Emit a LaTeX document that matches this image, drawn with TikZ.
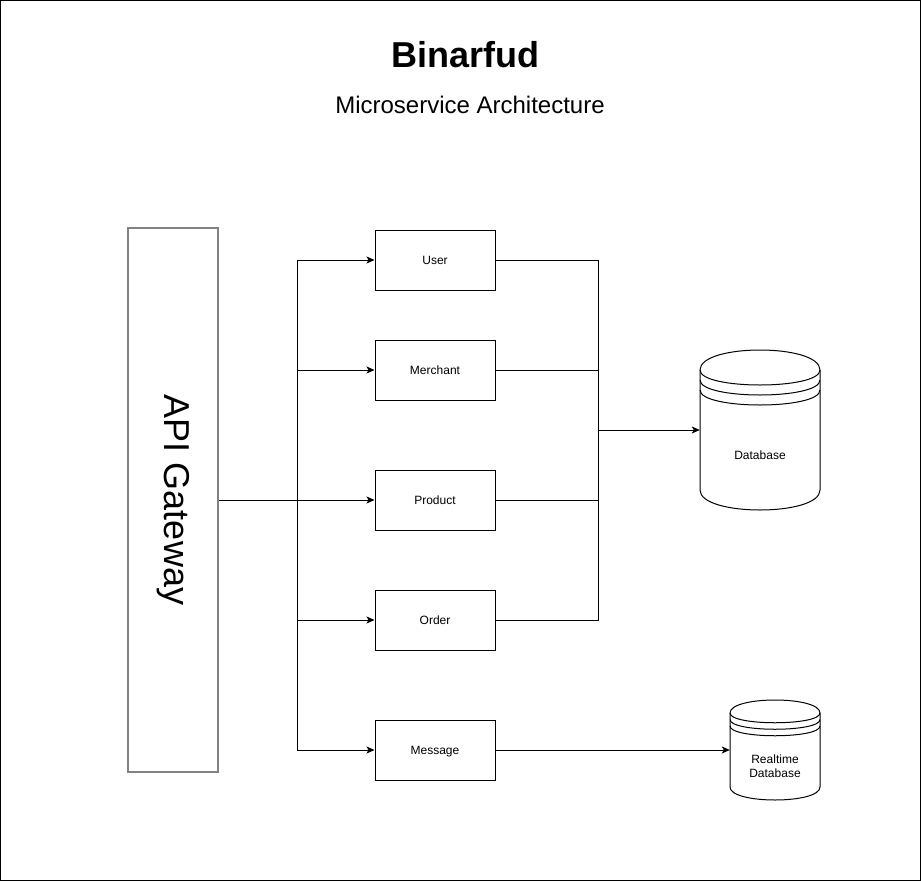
\documentclass[tikz,border=0pt]{standalone}
\usepackage{fontspec}
\setmainfont{Liberation Sans}
\usetikzlibrary{arrows.meta}
\definecolor{gwgray}{HTML}{828282}
\begin{document}
\begin{tikzpicture}[x=1pt,y=-1pt,
  every node/.style={inner sep=0pt},
  svc/.style={draw=black,line width=1pt,minimum width=120pt,minimum height=60pt,text height=8.6pt,text depth=0pt,font=\fontsize{12}{14}\selectfont},
  conn/.style={draw=black,line width=1pt},
  arr/.style={conn,-{Stealth[length=8pt,width=7pt,inset=2pt]}},
  cyl/.style={draw=black,line width=1pt,fill=white},
  smalltext/.style={font=\fontsize{12}{14}\selectfont,align=center}]
\useasboundingbox (0,0) rectangle (921,881);
\draw[line width=1pt] (0.5,0.5) rectangle (920.5,880.5);

% titles
\node[anchor=base,font=\fontsize{36}{43}\selectfont\bfseries] (title) at (465,67) {Binarfud};
\node[anchor=base,font=\fontsize{24}{29}\selectfont] (subtitle) at (470,113) {Microservice Architecture};

% API gateway
\node[draw=gwgray,line width=2pt,minimum width=90pt,minimum height=544pt] (gw) at (173,500) {};
\node[rotate=-90,font=\fontsize{36}{43}\selectfont] (gwlabel) at (173,500) {API Gateway};

% services
\node[svc] (user) at (435,260) {User};
\node[svc] (merchant) at (435,370) {Merchant};
\node[svc] (product) at (435,500) {Product};
\node[svc] (order) at (435,620) {Order};
\node[svc] (message) at (435,750) {Message};

% databases (anchor nodes)
\node[minimum width=120pt,minimum height=160pt] (db) at (760,430) {};
\node[minimum width=90pt,minimum height=100pt] (rtdb) at (775,750) {};

% big cylinder
\path[cyl] (700,370) .. controls (700,343.33) and (820,343.33) .. (820,370)
  -- (820,490) .. controls (820,516.67) and (700,516.67) .. (700,490) -- cycle;
\draw[line width=1pt] (700,370) .. controls (700,390) and (820,390) .. (820,370);
\draw[line width=1pt] (700,380) .. controls (700,400) and (820,400) .. (820,380);
\draw[line width=1pt] (700,390) .. controls (700,410) and (820,410) .. (820,390);
\node[smalltext] (dblabel) at (760,455) {Database};

% small cylinder
\path[cyl] (730,713) .. controls (730,695.67) and (820,695.67) .. (820,713)
  -- (820,787) .. controls (820,804.33) and (730,804.33) .. (730,787) -- cycle;
\draw[line width=1pt] (730,713) .. controls (730,726) and (820,726) .. (820,713);
\draw[line width=1pt] (730,719.5) .. controls (730,732.5) and (820,732.5) .. (820,719.5);
\draw[line width=1pt] (730,726) .. controls (730,739) and (820,739) .. (820,726);
\node[smalltext] (rtlabel) at (775,766) {Realtime\\Database};

% junctions
\coordinate (j1) at (297,500);
\coordinate (j2) at (598,430);

% gateway to services
\draw[arr] (gw.east) -- (j1) |- (user.west);
\draw[arr] (gw.east) -- (j1) |- (merchant.west);
\draw[arr] (gw.east) -- (product.west);
\draw[arr] (gw.east) -- (j1) |- (order.west);
\draw[arr] (gw.east) -- (j1) |- (message.west);

% services to database
\draw[conn] (user.east) -| (j2);
\draw[conn] (merchant.east) -| (j2);
\draw[conn] (product.east) -| (j2);
\draw[conn] (order.east) -| (j2);
\draw[arr] (j2) -- (db.west);

% message to realtime db
\draw[arr] (message.east) -- (rtdb.west);
\end{tikzpicture}
\end{document}
